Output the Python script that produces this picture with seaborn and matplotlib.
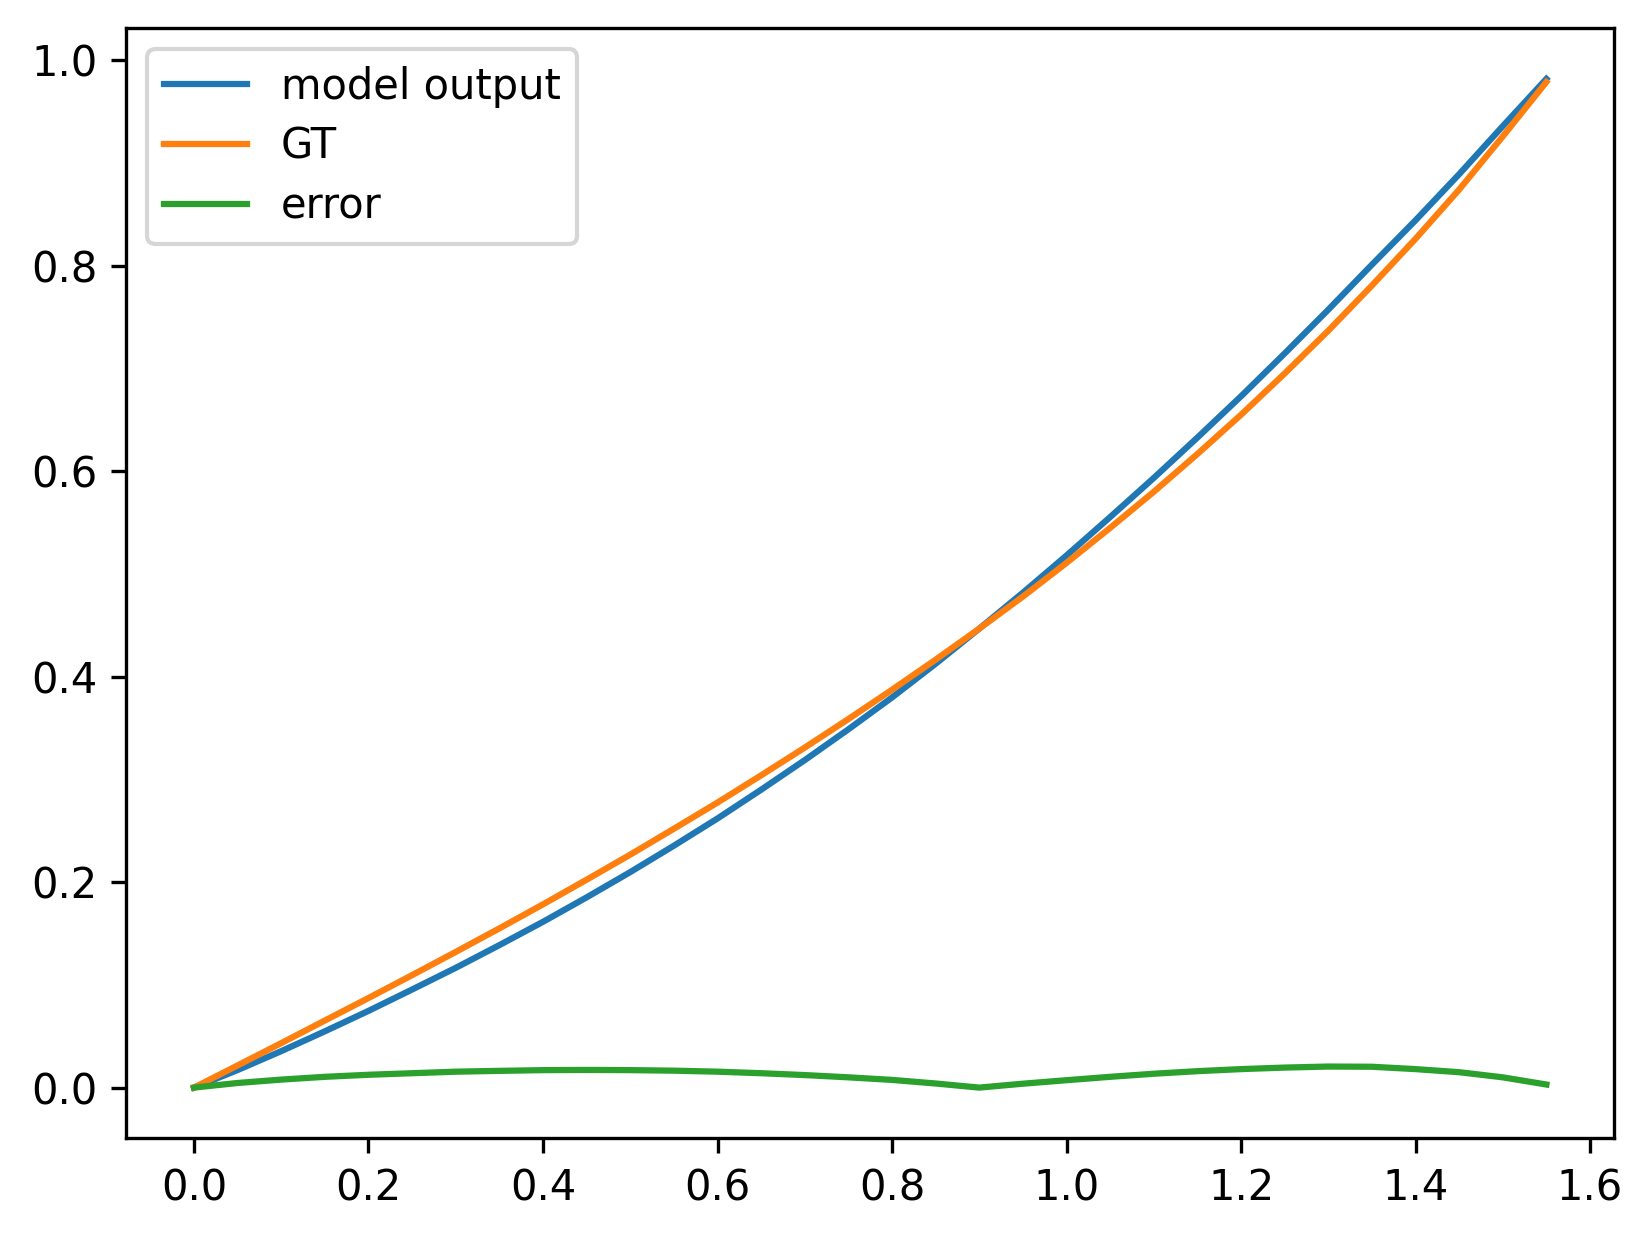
import numpy as np
import pandas as pd
import matplotlib
matplotlib.use("Agg")
import matplotlib.pyplot as plt
import seaborn as sns

# ---------------- data ----------------
x_vals = [0.00, 0.05, 0.10, 0.15, 0.20, 0.25, 0.30, 0.35, 0.40, 0.45,
          0.50, 0.55, 0.60, 0.65, 0.70, 0.75, 0.80, 0.85, 0.90, 0.95,
          1.00, 1.05, 1.10, 1.15, 1.20, 1.25, 1.30, 1.35, 1.40, 1.45,
          1.50, 1.55]

model_output = [0.0000, 0.0171, 0.0355, 0.0548, 0.0747, 0.0955, 0.1166, 0.1387,
                0.1614, 0.1852, 0.2098, 0.2355, 0.2620, 0.2900, 0.3188, 0.3488,
                0.3798, 0.4126, 0.4468, 0.4818, 0.5180, 0.5554, 0.5935, 0.6328,
                0.6730, 0.7147, 0.7573, 0.8011, 0.8443, 0.8892, 0.9360, 0.9820]

gt = [0.0000, 0.0216, 0.0433, 0.0653, 0.0872, 0.1095, 0.1321, 0.1550,
      0.1784, 0.2024, 0.2268, 0.2520, 0.2775, 0.3040, 0.3310, 0.3588,
      0.3873, 0.4166, 0.4468, 0.4780, 0.5108, 0.5449, 0.5800, 0.6168,
      0.6550, 0.6952, 0.7368, 0.7808, 0.8263, 0.8742, 0.9260, 0.9790]

error = [0.0000, 0.0045, 0.0078, 0.0105, 0.0125, 0.0140, 0.0155, 0.0163,
         0.0170, 0.0172, 0.0170, 0.0165, 0.0155, 0.0140, 0.0122, 0.0100,
         0.0075, 0.0040, 0.0000, 0.0038, 0.0072, 0.0105, 0.0135, 0.0160,
         0.0180, 0.0195, 0.0205, 0.0203, 0.0180, 0.0150, 0.0100, 0.0030]

series_names = ["model output", "GT", "error"]
colors = sns.color_palette("tab10", 3)

df = pd.DataFrame({"x": x_vals, "model output": model_output, "GT": gt, "error": error})

# ---------------- plot ----------------
fig, ax = plt.subplots(figsize=(1652 / 300, 1237 / 300), dpi=300)
fig.subplots_adjust(left=0.0765, right=0.977, top=0.977, bottom=0.080)

for name, c in zip(series_names, colors):
    sns.lineplot(data=df, x="x", y=name, color=c, label=name, ax=ax, linewidth=1.5)

ax.set_xlabel("")
ax.set_ylabel("")
ax.set_xticks([0.0, 0.2, 0.4, 0.6, 0.8, 1.0, 1.2, 1.4, 1.6])
ax.set_yticks([0.0, 0.2, 0.4, 0.6, 0.8, 1.0])
ax.legend(loc="upper left", fontsize=10, labelspacing=0.43)

fig.savefig("out.png", dpi=300)
